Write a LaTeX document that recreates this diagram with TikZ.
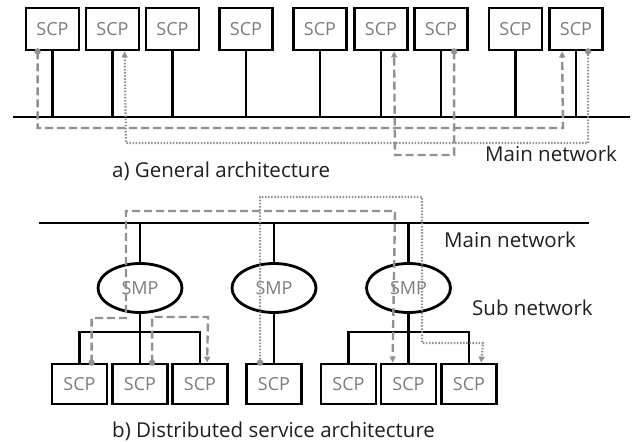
\documentclass[tikz,border=0pt]{standalone}
\usepackage{fontspec}
\setmainfont{Open Sans}
\usetikzlibrary{arrows.meta,shapes.geometric}
\definecolor{pathgray}{RGB}{145,145,145}
\definecolor{txtgray}{RGB}{125,125,125}
\tikzset{
  scpbox/.style={draw=black, line width=2.8bp, minimum width=53bp, minimum height=42bp,
    inner sep=0pt, text=txtgray, font=\fontsize{18bp}{20bp}\selectfont, fill=white},
  scpboxb/.style={scpbox, minimum width=55bp, minimum height=40bp},
  smp/.style={draw=black, line width=2.8bp, ellipse, minimum width=84bp, minimum height=49bp,
    inner sep=0pt, text=txtgray, font=\fontsize{18bp}{20bp}\selectfont},
  wire/.style={draw=black, line width=2.6bp},
  gdash/.style={draw=pathgray, line width=2.4bp, dash pattern=on 8bp off 4bp},
  gdot/.style={draw=pathgray, line width=2.2bp, dash pattern=on 1.5bp off 1.6bp},
  tip/.style={-{Triangle[length=6bp,width=6bp]}},
  lbl/.style={anchor=base west, inner sep=0pt, text=black!88, font=\fontsize{20.5bp}{24bp}\selectfont},
  startdot/.style={fill=pathgray}
}
\begin{document}
\begin{tikzpicture}[x=1bp,y=-1bp]
\useasboundingbox (0,0) rectangle (634,442);

% ---------- a) general architecture ----------
\coordinate (busAL) at (13,117);
\coordinate (busAR) at (630,117);
\draw[wire] (busAL) -- (busAR);

\foreach \n/\x in {1/52.5,2/112.5,3/172.5,4/246,5/320,6/381,7/441,8/515.5,9/576}{
  \node[scpbox] (s\n) at (\x,29) {SCP};
  \draw[wire] (s\n.south) -- (s\n.south |- busAL);
}

% service paths between SCPs across the main network
\draw[gdash,tip] ([xshift=13bp]s1.south west) |- (563,128) -- ([xshift=14bp]s9.south west);
\fill[startdot] ([xshift=13bp]s1.south west) circle (3.2);

\draw[gdot,tip] ([xshift=40bp]s9.south west) |- (126,143) -- ([xshift=40bp]s2.south west);
\fill[startdot] ([xshift=40bp]s9.south west) circle (3.2);

\draw[gdash,tip] ([xshift=41bp]s7.south west) |- (395,155) -- ([xshift=41bp]s6.south west);
\fill[startdot] ([xshift=41bp]s7.south west) circle (3.2);

\node[lbl] (mainA) at (485,162) {Main network};
\node[lbl] (capA) at (112,178) {a) General architecture};

% ---------- b) distributed service architecture ----------
\coordinate (busBL) at (39,223);
\coordinate (busBR) at (589,223);
\draw[wire] (busBL) -- (busBR);

\foreach \n/\x in {1/140,2/274,3/408.5}{
  \node[smp] (m\n) at (\x,288) {SMP};
  \draw[wire] (m\n.north) -- (m\n.north |- busBL);
}

\foreach \n/\x in {1/79.5,2/140,3/200,4/274,5/348.5,6/408.5,7/469}{
  \node[scpboxb] (b\n) at (\x,384) {SCP};
}

% sub network under the first SMP
\coordinate (barL) at (0,332);
\draw[wire] (m1.south) -- (b2.north);
\draw[wire] (b1.north) -- (b1.north |- barL) -- (b3.north |- barL) -- (b3.north);
% second SMP
\draw[wire] (m2.south) -- (b4.north);
% sub network under the third SMP
\draw[wire] (m3.south) -- (b6.north);
\draw[wire] (b5.north) -- (b5.north |- barL) -- (b7.north |- barL) -- (b7.north);

% service paths
\draw[gdash,tip] ([xshift=41bp]b1.north west) |- (126,318) |- (395,211) -- ([xshift=13bp]b6.north west);
\fill[startdot] ([xshift=41bp]b1.north west) circle (3.2);

\draw[gdash,tip] ([xshift=41bp]b2.north west) |- (208,317) -- ([xshift=36bp]b3.north west);
\fill[startdot] ([xshift=41bp]b2.north west) circle (3.2);

\draw[gdot,tip] ([xshift=15bp]b4.north west) |- (422,197) |- (483,343) -- ([xshift=41bp]b7.north west);
\fill[startdot] ([xshift=15bp]b4.north west) circle (3.2);

\node[lbl] (mainB) at (444,248) {Main network};
\node[lbl] (subB) at (472,316) {Sub network};
\node[lbl] (capB) at (112,437) {b) Distributed service architecture};
\end{tikzpicture}
\end{document}
